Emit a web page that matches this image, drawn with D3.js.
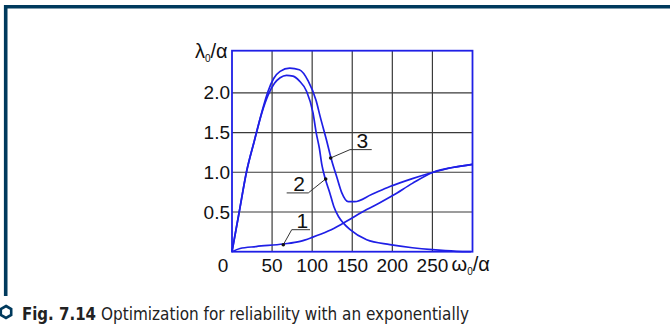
<!DOCTYPE html>
<html><head><meta charset="utf-8">
<script src="https://cdn.jsdelivr.net/npm/d3@7"></script>
<style>body{margin:0;background:#fff}svg{display:block}</style>
</head><body><svg id="c" width="670" height="324"></svg>
<script>
// ---- data ----
const xTicks = [50, 100, 150, 200, 250];
const yTicks = [0.5, 1.0, 1.5, 2.0];
const yTickLabels = ["0.5", "1.0", "1.5", "2.0"];

const curve1X = [0, 10, 30, 64, 85, 100, 120, 139, 168, 185, 201, 225, 251, 275, 300];
const curve1Y = [0, 0.04, 0.065, 0.097, 0.13, 0.18, 0.26, 0.36, 0.53, 0.62, 0.71, 0.86, 1.0, 1.06, 1.1];

const curve2X = [0, 9, 18, 28, 37, 45, 53, 60, 68, 76, 84, 93, 101, 105, 109, 112, 116, 122, 127, 133, 139, 147, 168, 197, 225, 250, 280, 298];
const curve2Y = [0, 0.5, 1.0, 1.4, 1.74, 1.97, 2.12, 2.19, 2.22, 2.21, 2.15, 2.02, 1.75, 1.5, 1.3, 1.1, 0.93, 0.74, 0.57, 0.44, 0.36, 0.28, 0.15, 0.09, 0.05, 0.025, 0.005, 0];

const curve3X = [0, 9, 18, 28, 37, 45, 52, 60, 72, 84, 95, 105, 110, 118, 124, 131, 137, 145, 153, 174, 197, 225, 251, 275, 300];
const curve3Y = [0, 0.5, 1.0, 1.4, 1.75, 2.02, 2.18, 2.27, 2.31, 2.29, 2.15, 1.9, 1.7, 1.4, 1.16, 0.93, 0.74, 0.63, 0.63, 0.72, 0.82, 0.92, 1.0, 1.06, 1.1];

const labelNames = ["1", "2", "3"];
const labelLineX1 = [74.5, 68.2, 147.2];
const labelLineX2 = [97.3, 95.2, 174.3];
const labelLineY = [0.277, 0.74, 1.285];
const labelAnchorX = [74.5, 95.2, 147.2]; // end of underline where leader starts
const labelPointX = [64, 116.9, 123.1];
const labelPointY = [0.088, 0.916, 1.18];

const captionBold = "Fig. 7.14";
const captionText = "Optimization for reliability with an exponentially";

// ---- drawing ----
const svg = d3.select("#c");
const x = d3.scaleLinear().domain([0, 300]).range([232, 472.5]);
const y = d3.scaleLinear().domain([0, 2.53]).range([251.7, 50.7]);
const SANS = "'Liberation Sans', Arial, sans-serif";
const COND = "'DejaVu Sans Condensed', 'Liberation Sans Narrow', 'Liberation Sans', sans-serif";
const navy = "#003a5d";
const blue = "#1f1fe6";
const ink = "#111";

// outer frame
svg.append("path").attr("d", "M5.7,296 V6.8 H670")
  .attr("fill", "none").attr("stroke", navy).attr("stroke-width", 3.6);

// grid
const g = svg.append("g");
g.selectAll("line.gx").data(xTicks).join("line")
  .attr("x1", d => x(d)).attr("x2", d => x(d))
  .attr("y1", y(0)).attr("y2", y(2.53))
  .attr("stroke", "#3a3a3a").attr("stroke-width", 1.2);
g.selectAll("line.gy").data(yTicks).join("line")
  .attr("y1", d => y(d)).attr("y2", d => y(d))
  .attr("x1", x(0)).attr("x2", x(300))
  .attr("stroke", "#3a3a3a").attr("stroke-width", 1.2);

// plot border
g.append("rect").attr("x", x(0)).attr("y", y(2.53))
  .attr("width", x(300) - x(0)).attr("height", y(0) - y(2.53))
  .attr("fill", "none").attr("stroke", blue).attr("stroke-width", 1.8);

// curves
const line = d3.line().x(d => x(d[0])).y(d => y(d[1])).curve(d3.curveMonotoneX);
[[curve1X, curve1Y], [curve2X, curve2Y], [curve3X, curve3Y]].forEach(([xs, ys]) => {
  g.append("path").datum(xs.map((v, i) => [v, ys[i]]))
    .attr("d", line).attr("fill", "none").attr("stroke", blue)
    .attr("stroke-width", 1.7).attr("stroke-linejoin", "round");
});

// tick labels
g.selectAll("text.yt").data(yTicks).join("text")
  .attr("x", x(0) - 2).attr("y", d => y(d)).attr("dy", "0.35em")
  .attr("text-anchor", "end").attr("font-family", SANS).attr("font-size", 19)
  .attr("fill", ink).text((d, i) => yTickLabels[i]);
g.selectAll("text.xt").data(xTicks).join("text")
  .attr("x", d => x(d)).attr("y", 271.5)
  .attr("text-anchor", "middle").attr("font-family", SANS).attr("font-size", 19)
  .attr("fill", ink).text(d => d);
g.append("text").attr("x", x(0) - 9).attr("y", 271.5).attr("text-anchor", "middle")
  .attr("font-family", SANS).attr("font-size", 19).attr("fill", ink).text("0");

// axis titles
const yt = g.append("text").attr("x", 195).attr("y", 58)
  .attr("font-family", SANS).attr("font-size", 20).attr("fill", ink);
yt.append("tspan").text("λ");
yt.append("tspan").attr("font-size", 10).attr("dy", 4).text("0");
yt.append("tspan").attr("dy", -4).text("/α");
const xt = g.append("text").attr("x", 451.5).attr("y", 271)
  .attr("font-family", SANS).attr("font-size", 20).attr("fill", ink);
xt.append("tspan").text("ω");
xt.append("tspan").attr("font-size", 10).attr("dy", 4).text("0");
xt.append("tspan").attr("dy", -4).text("/α");

// curve labels with leaders
labelNames.forEach((name, i) => {
  g.append("line").attr("x1", x(labelLineX1[i])).attr("x2", x(labelLineX2[i]))
    .attr("y1", y(labelLineY[i])).attr("y2", y(labelLineY[i]))
    .attr("stroke", "#333").attr("stroke-width", 1);
  g.append("line").attr("x1", x(labelAnchorX[i])).attr("y1", y(labelLineY[i]))
    .attr("x2", x(labelPointX[i])).attr("y2", y(labelPointY[i]))
    .attr("stroke", "#333").attr("stroke-width", 1);
  g.append("circle").attr("cx", x(labelPointX[i])).attr("cy", y(labelPointY[i]))
    .attr("r", 1.8).attr("fill", "#111");
  g.append("text").attr("x", (x(labelLineX1[i]) + x(labelLineX2[i])) / 2 + 1.5)
    .attr("y", y(labelLineY[i]) - 2).attr("text-anchor", "middle")
    .attr("font-family", SANS).attr("font-size", 21).attr("fill", ink).text(name);
});

// caption
const hx = 6, hy = 312, hr = 6;
const hex = d3.range(6).map(k => {
  const a = Math.PI / 3 * k - Math.PI / 2;
  return [hx + hr * Math.cos(a), hy + hr * Math.sin(a)];
});
svg.append("polygon").attr("points", hex.map(p => p.join(",")).join(" "))
  .attr("fill", "none").attr("stroke", navy).attr("stroke-width", 2.6);
svg.append("text").attr("x", 22).attr("y", 319.5)
  .attr("font-family", COND).attr("font-weight", "bold").attr("font-size", 18)
  .attr("fill", "#222").attr("textLength", 74).attr("lengthAdjust", "spacingAndGlyphs")
  .text(captionBold);
svg.append("text").attr("x", 101).attr("y", 319.5)
  .attr("font-family", COND).attr("font-size", 18)
  .attr("fill", "#222").attr("textLength", 368).attr("lengthAdjust", "spacingAndGlyphs")
  .text(captionText);
</script></body></html>
